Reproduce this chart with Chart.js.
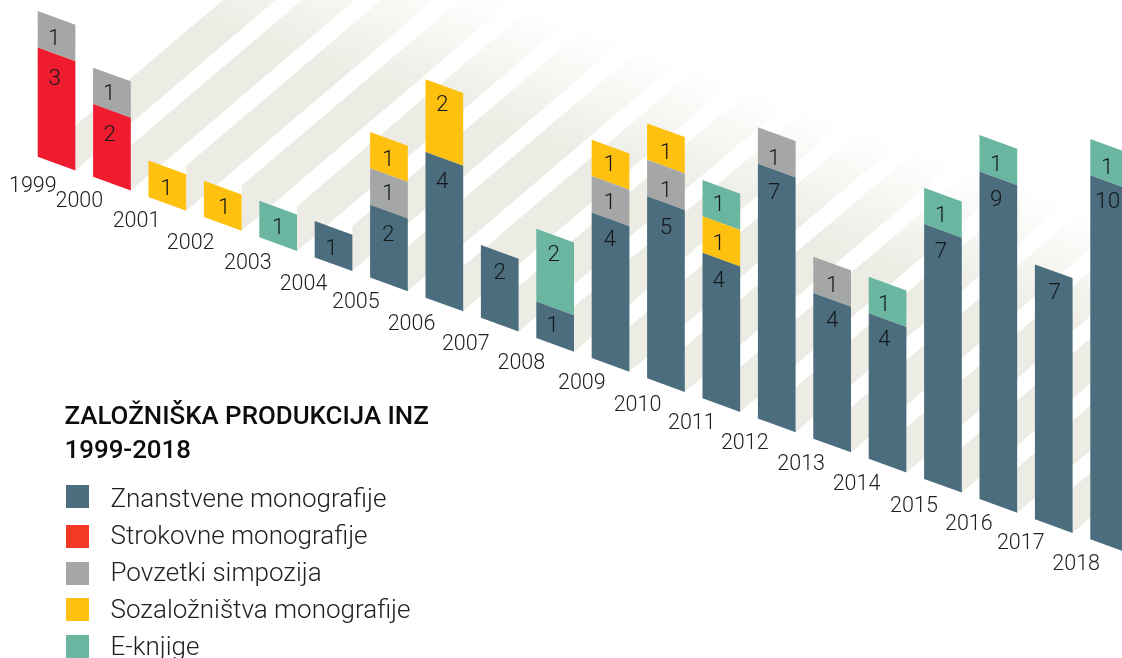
<!DOCTYPE html>
<html><head><meta charset="utf-8">
<style>html,body{margin:0;padding:0;background:#fff;overflow:hidden;width:1122px;height:658px}canvas{display:block}</style>
<script src="https://cdn.jsdelivr.net/npm/chart.js@4"></script>
</head><body><canvas id="c" width="1170" height="658" style="width:1170px;height:658px"></canvas>
<script>
const years = ['1999','2000','2001','2002','2003','2004','2005','2006','2007','2008','2009','2010','2011','2012','2013','2014','2015','2016','2017','2018'];
const znanstvene   = [null,null,null,null,null,1,2,4,2,1,4,5,4,7,4,4,7,9,7,10];
const strokovne    = [3,2,null,null,null,null,null,null,null,null,null,null,null,null,null,null,null,null,null,null];
const povzetki     = [1,1,null,null,null,null,1,null,null,null,1,1,null,1,1,null,null,null,null,null];
const sozalozinstva= [null,null,1,1,null,null,1,2,null,null,1,1,1,null,null,null,null,null,null,null];
const eknjige      = [null,null,null,null,1,null,null,null,null,2,null,null,1,null,null,1,1,1,null,1];
const seriesNames  = ['Znanstvene monografije','Strokovne monografije','Povzetki simpozija','Sozaložništva monografije','E-knjige'];
const titleLines   = ['ZALOŽNIŠKA PRODUKCIJA INZ','1999-2018'];

const barColors = ['#4B6D7E','#EF1C30','#A5A7A6','#FEC10F','#6BB6A0'];
const swatchColors = ['#4B6D7E','#F33825','#A5A7A6','#FEC10F','#6BB6A0'];
const swatchTops = [485,525,562,598,635];
const SKEW = 0.3635, SHIFT = -377;
const STRIPE_SLOPE = 0.85, STRIPE_THICK = 45, STRIPE_COLOR = [236,236,228];
const yearNudge = [[-23.7,28.1],[-32.6,23],[-30.8,23.1],[-32.1,25],[-30.3,24.8],[-30,25.7],[-33.1,23.6],[-32.8,25.5],[-34,25.3],[-33.8,24.2],[-28.7,24],[-28.4,26],[-29.5,23.7],[-32,23.6],[-31,24.4],[-31,24.3],[-29,25.9],[-29.5,24],[-33,23],[-33,24]];
// hand placement of the value labels in the artwork: series -> year index -> [dx, dy from segment top]
const valueNudge = [
 {5:[-2,19.1],6:[-.8,21.2],7:[-2.2,21.1],8:[0,18.9],9:[-2.3,14.9],10:[-.7,18.3],11:[0,22.8],12:[-2.5,18.6],13:[-2.6,20.4],14:[0,18.7],15:[-3.4,18],16:[-2,19],17:[-2.2,19.3],18:[1,19.7],19:[-1.3,17.5]},
 {0:[-1.7,22.3],1:[-2.1,21.9]},
 {0:[-2.4,18.3],1:[-2.8,16.8],6:[-.8,16.8],10:[-.7,18],11:[0,22.2],13:[-2.6,22.5],14:[0,19.7]},
 {2:[-.8,18.8],3:[1.4,18.4],6:[-.8,18.7],7:[-2.2,16.9],10:[-.7,16.1],11:[0,20.3],12:[-2.5,18.4]},
 {4:[0,17.7],9:[-1.3,17.2],12:[-2.5,15.4],15:[-3.4,18.6],16:[-1.8,18.9],17:[-2.2,20.5],19:[-2,19.4]}
];
const BAR_PCT = 37.7/55.4;

const oblique = {
  id:'oblique',
  beforeDatasetsDraw(chart){
    const ctx = chart.ctx, xs = chart.scales.x, ys = chart.scales.y;
    ctx.save();
    ctx.transform(1,SKEW,0,1,0,SHIFT);
    const base = ys.getPixelForValue(0);
    const pitch = xs.getPixelForValue(1)-xs.getPixelForValue(0);
    const half = pitch*BAR_PCT/2;
    const g = ctx.createLinearGradient(0,base-328,0,base-193);
    const [r,gg,b] = STRIPE_COLOR;
    g.addColorStop(0,`rgba(${r},${gg},${b},0)`);
    g.addColorStop(1,`rgba(${r},${gg},${b},1)`);
    ctx.fillStyle = g;
    const L = 900, rise = (STRIPE_SLOPE+SKEW)*L;
    years.forEach((_,i)=>{
      const x = xs.getPixelForValue(i)+half;
      ctx.beginPath();
      ctx.moveTo(x,base);
      ctx.lineTo(x+L,base-rise);
      ctx.lineTo(x+L,base-rise-STRIPE_THICK);
      ctx.lineTo(x,base-STRIPE_THICK);
      ctx.closePath();
      ctx.fill();
    });
  },
  afterDatasetsDraw(chart){
    const ctx = chart.ctx, xs = chart.scales.x, ys = chart.scales.y;
    ctx.restore();
    const toScreen = (x,y)=>y+SKEW*x+SHIFT;
    ctx.save();
    ctx.fillStyle = '#14181b';
    ctx.font = '300 22.5px Roboto';
    ctx.textAlign = 'center';
    ctx.textBaseline = 'middle';
    chart.data.datasets.forEach((ds,di)=>{
      const meta = chart.getDatasetMeta(di);
      ds.data.forEach((v,i)=>{
        if(v==null) return;
        const el = meta.data[i];
        const [dx,dy] = valueNudge[di][i];
        ctx.fillText(String(v), el.x+dx, toScreen(el.x,el.y)+dy+2.8);
      });
    });
    ctx.fillStyle = '#202020';
    ctx.font = '300 21.5px Roboto';
    ctx.textBaseline = 'alphabetic';
    const base = ys.getPixelForValue(0);
    years.forEach((y,i)=>{
      const x = xs.getPixelForValue(i);
      ctx.fillText(y, x+yearNudge[i][0], toScreen(x,base)+yearNudge[i][1]);
    });
    ctx.textAlign = 'left';
    ctx.fillStyle = '#0c0c0c';
    ctx.font = '500 25.9px Roboto';
    titleLines.forEach((t,i)=>ctx.fillText(t,64.5,424+34*i));
    ctx.font = '300 26px Roboto';
    seriesNames.forEach((n,i)=>{
      ctx.fillStyle = swatchColors[i];
      ctx.fillRect(66,swatchTops[i],23,23);
      ctx.fillStyle = '#202020';
      ctx.fillText(n,110.5,507+37*i);
    });
    ctx.restore();
  }
};

const allSeries = [znanstvene,strokovne,povzetki,sozalozinstva,eknjige];
new Chart(document.getElementById('c'),{
  type:'bar',
  data:{labels:years,datasets:allSeries.map((d,i)=>({
    label:seriesNames[i],data:d,backgroundColor:barColors[i],borderWidth:0,clip:false,
    categoryPercentage:1,barPercentage:BAR_PCT
  }))},
  options:{
    responsive:false,animation:false,
    layout:{padding:{left:28.85,right:33.15,top:83.2,bottom:138}},
    plugins:{legend:{display:false},title:{display:false},tooltip:{enabled:false}},
    scales:{
      x:{stacked:true,display:false},
      y:{stacked:true,display:false,min:0,max:12}
    }
  },
  plugins:[oblique]
});
</script></body></html>
